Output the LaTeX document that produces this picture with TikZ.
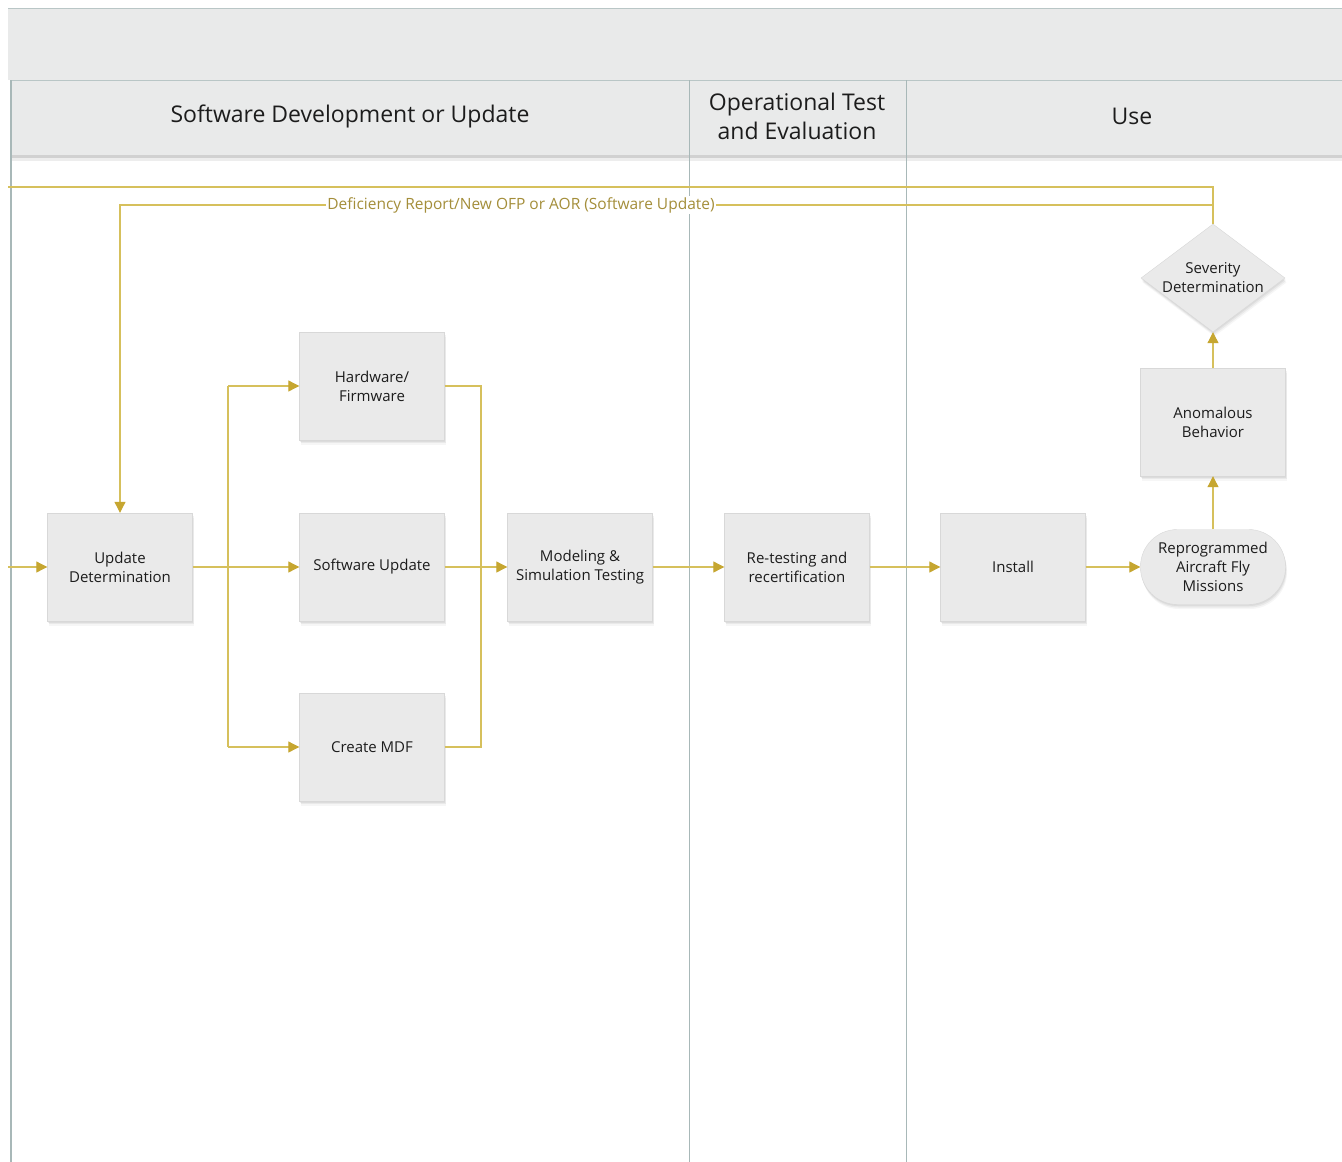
\documentclass[tikz,border=0pt]{standalone}
\usepackage{fontspec}
\setmainfont{Open Sans}
\usetikzlibrary{arrows.meta,shapes.geometric,shadows,patterns}

\definecolor{flow}{RGB}{214,192,92}
\definecolor{tip}{RGB}{198,166,48}
\definecolor{lane}{RGB}{168,184,184}
\definecolor{boxfill}{RGB}{234,234,234}
\definecolor{boxline}{RGB}{216,216,216}
\definecolor{bandfill}{RGB}{233,234,234}
\definecolor{labeltext}{RGB}{164,142,58}
\definecolor{ink}{RGB}{28,28,28}

\tikzset{
  boxbase/.style={draw=boxline, fill=boxfill, align=center, text=ink,
    font=\fontsize{15}{19}\selectfont,
    drop shadow={shadow xshift=1.5pt, shadow yshift=-4.5pt, opacity=0.07},
    drop shadow={shadow xshift=1pt, shadow yshift=-3pt, opacity=0.10},
    drop shadow={shadow xshift=0.5pt, shadow yshift=-1.5pt, opacity=0.12}},
  proc/.style={boxbase, rectangle, minimum width=145pt, minimum height=108pt},
  term/.style={boxbase, rectangle, rounded corners=37pt, minimum width=145pt, minimum height=75pt, inner sep=0pt},
  decide/.style={boxbase, diamond, aspect=1.33, inner sep=0pt, minimum width=144pt, minimum height=108pt},
  lanehead/.style={align=center, text=ink, font=\fontsize{23}{29}\selectfont},
  flowline/.style={draw=flow, line width=1.1pt},
  arr/.style={flowline, -{Triangle[length=11pt, width=11pt, color=tip]}},
  lanerule/.style={draw=lane, line width=1pt},
  flowlabel/.style={fill=white, inner xsep=1pt, inner ysep=1pt, text=labeltext, font=\fontsize{15.5}{17}\selectfont}
}

\begin{document}
\begin{tikzpicture}[x=1pt, y=-1pt]
\useasboundingbox (0,0) rectangle (1342,1162);
\fill[white] (0,0) rectangle (1342,1162);

% title band and lane header row
\fill[bandfill] (8,8) rectangle (1342,80);
\draw[lane!80] (8,8) -- (1342,8);
\fill[bandfill] (11,80) rectangle (1342,155);
\draw[lane!80] (11,80) -- (1342,80);
\fill[black, opacity=0.18] (11,155) rectangle (1342,158);
\fill[black, opacity=0.07] (11,158) rectangle (1342,161);

% lane borders
\draw[lanerule, line width=2pt] (11,80) -- (11,1162);
\draw[lanerule] (689,80) -- (689,1162);
\draw[lanerule] (906,80) -- (906,1162);

\node[lanehead] (h1) at (350,116) {Software Development or Update};
\node[lanehead] (h2) at (797,116) {Operational Test\\and Evaluation};
\node[lanehead] (h3) at (1132,116) {Use};

% process steps
\node[proc] (upd)  at (120,567)  {Update\\Determination};
\node[proc] (hw)   at (372,386)  {Hardware/\\Firmware};
\node[proc] (sw)   at (372,567)  {Software Update};
\node[proc] (mdf)  at (372,747)  {Create MDF};
\node[proc] (ms)   at (580,567)  {Modeling \&\\Simulation Testing};
\node[proc] (rt)   at (797,567)  {Re-testing and\\recertification};
\node[proc] (inst) at (1013,567) {Install};
\node[term] (rep)  at (1213,567) {Reprogrammed\\Aircraft Fly\\Missions};
\node[proc] (anom) at (1213,422) {Anomalous\\Behavior};
\node[decide] (sev) at (1213,278) {Severity\\Determination};

% junction points and free ends
\coordinate (split) at (228,567);
\coordinate (merge) at (481,567);
\coordinate (inL)   at (8,567);
\coordinate (loopL) at (8,187);
\coordinate (fb)    at (120,205);

% connectors
\draw[arr] (inL) -- (upd.west);
\draw[flowline] (upd.east) -- (split);
\draw[flowline] (hw.west -| split) -- (mdf.west -| split);
\draw[arr] (split |- hw.west) -- (hw.west);
\draw[arr] (split) -- (sw.west);
\draw[arr] (split |- mdf.west) -- (mdf.west);
\draw[flowline] (hw.east) -| (merge);
\draw[flowline] (mdf.east) -| (merge);
\draw[arr] (sw.east) -- (ms.west);
\draw[arr] (ms.east) -- (rt.west);
\draw[arr] (rt.east) -- (inst.west);
\draw[arr] (inst.east) -- (rep.west);
\draw[arr] (rep.north) -- (anom.south);
\draw[arr] (anom.north) -- (sev.south);
\draw[flowline] (sev.north) |- (loopL);
\draw[arr] (sev.north) |- (fb) -- (upd.north);
\node[flowlabel] (fbl) at (521,205) {Deficiency Report/New OFP or AOR (Software Update)};
\end{tikzpicture}
\end{document}
